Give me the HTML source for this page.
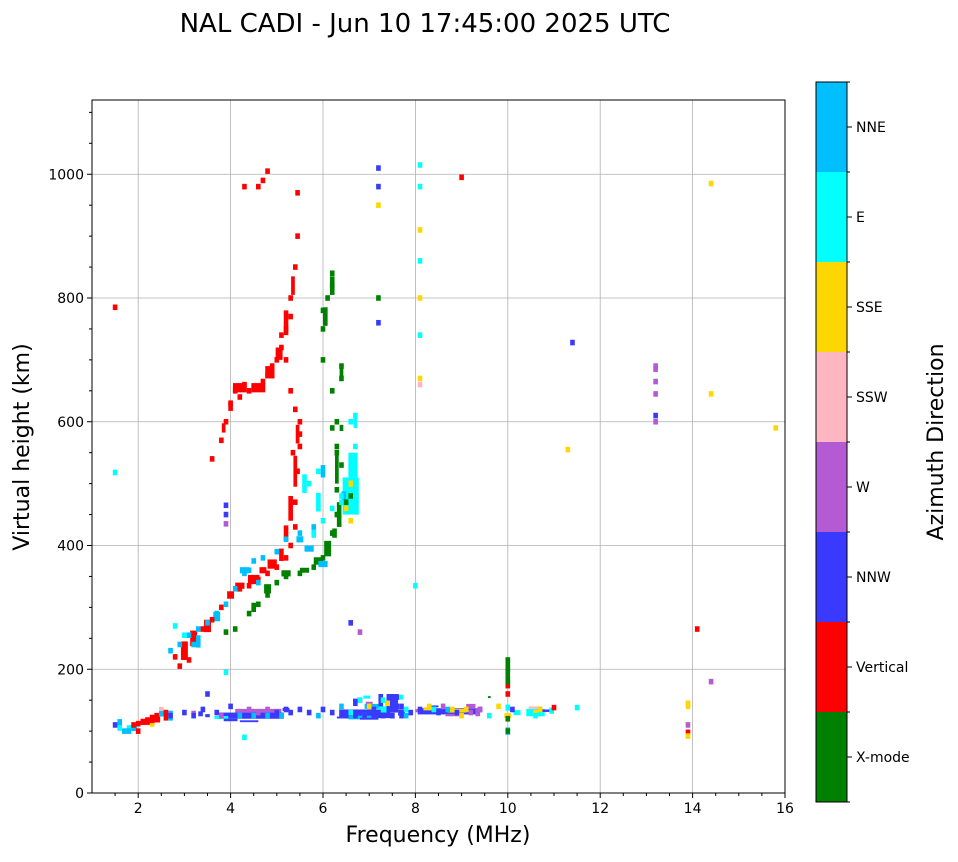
<!DOCTYPE html>
<html><head><meta charset="utf-8"><style>
body{margin:0;background:#fff;font-family:"Liberation Sans","DejaVu Sans",sans-serif}
svg text{font-family:"DejaVu Sans","Liberation Sans",sans-serif}
</style></head><body>
<svg id="c" width="958" height="857" xmlns="http://www.w3.org/2000/svg">
<text x="425" y="32" font-size="26" text-anchor="middle">NAL CADI - Jun 10 17:45:00 2025 UTC</text>
<g id="grid"></g><g id="marks"></g><g id="axes"></g><g id="cbar"></g>
<text x="438" y="842" font-size="22" text-anchor="middle">Frequency (MHz)</text>
<text transform="translate(29,447) rotate(-90)" font-size="22" text-anchor="middle">Virtual height (km)</text>
<text transform="translate(943,442) rotate(-90)" font-size="22" text-anchor="middle">Azimuth Direction</text>
</svg>
<script>
const modeNames=["X-mode","Vertical","NNW","W","SSW","SSE","E","NNE"];
const modeColors=["#008000","#ff0000","#3a3aff","#b45ad2","#ffb6c1","#ffd700","#00ffff","#00bfff"];
const xTicks=[2,4,6,8,10,12,14,16];
const yTicks=[0,200,400,600,800,1000];
const freqs=[1.5,1.6,1.7,1.8,1.9,2.0,2.1,2.2,2.3,2.4,2.5,2.6,2.7,1.6,1.8,2.0,
2.8,3.0,3.2,3.4,3.6,3.8,4.0,4.2,4.4,4.6,4.8,5.0,5.2,5.3,5.4,5.4,5.45,5.5,5.5,5.3,5.2,5.2,5.3,5.4,5.45,5.45,
3.6,3.8,3.9,4.0,4.1,4.3,4.5,4.7,4.9,5.0,5.1,4.3,4.6,4.7,4.8,1.5,4.2,4.4,4.8,5.1,5.3,5.4,5.5,5.35,2.9,3.1,
2.7,2.9,3.1,3.3,3.5,3.7,3.9,4.1,4.3,4.5,4.7,5.0,5.2,5.5,5.8,6.0,6.2,6.4,6.5,6.6,6.7,6.6,5.9,5.7,6.5,6.6,6.4,6.7,2.8,3.0,3.2,4.4,4.6,
3.9,4.1,4.4,4.6,4.8,5.0,5.2,5.5,5.8,6.0,6.1,6.2,6.3,6.3,6.4,6.3,6.3,6.2,6.0,6.0,6.0,6.1,6.2,6.2,6.4,6.4,6.6,6.5,10.0,10.0,10.0,10.0,10.0,10.0,6.3,6.2,
8.1,8.1,8.1,8.1,8.1,8.1,8.1,8.1,7.2,7.2,7.2,7.2,7.2,13.2,13.2,13.2,13.2,13.2,13.2,14.4,14.4,15.8,11.3,11.4,8.0,6.6,6.8,14.1,14.4,
13.9,13.9,13.9,13.9,13.9,11.0,11.5,10.6,10.6,10.7,9.0,3.9,3.9,3.9,1.5,3.9,4.3,3.5,
3.0,3.2,3.4,3.7,3.8,4.0,4.1,4.2,4.3,4.4,4.5,4.6,4.7,4.8,4.9,5.0,5.1,5.2,5.3,5.5,5.7,5.9,6.0,6.2,6.4,6.5,6.6,6.7,6.8,6.9,7.0,7.1,7.2,7.3,7.4,7.5,7.6,7.7,7.8,7.9,8.1,8.3,8.5,8.6,8.8,8.9,9.0,9.2,9.4,9.6,9.8,10.1,
4.2,4.5,4.8,5.1,6.5,6.7,6.9,7.1,7.3,7.5,7.7,8.4,8.7,9.1,9.4,7.0,7.4,7.8,6.8,7.6];
const heights=[110,105,100,105,110,112,115,118,122,125,128,130,125,115,100,100,
220,230,250,265,280,300,320,330,335,345,355,365,380,400,430,470,520,560,600,650,700,750,800,850,900,970,
540,570,600,630,650,660,655,665,690,700,720,980,980,990,1005,785,640,650,675,740,770,620,580,550,205,215,
230,240,255,265,275,290,305,330,355,375,380,390,410,420,430,440,460,480,500,530,560,600,520,500,460,440,470,610,270,255,240,360,340,
260,265,290,305,320,340,350,355,365,380,400,420,450,490,530,560,600,650,700,750,780,800,820,840,690,670,480,470,200,180,160,215,100,120,550,590,
1015,980,910,860,740,670,660,800,1010,980,950,800,760,690,685,665,645,610,600,985,645,590,555,728,335,275,260,265,180,
145,140,110,98,92,138,138,130,125,135,995,450,465,435,518,195,90,160,
130,125,135,130,125,140,125,130,125,135,125,130,125,135,125,130,125,135,130,135,130,125,135,130,140,125,130,145,150,125,140,135,130,150,145,125,155,140,135,130,135,140,130,140,135,130,125,130,135,125,140,135,
125,125,125,125,125,125,125,125,125,125,125,135,135,135,135,140,145,125,150,140];
const modes=[2,6,7,6,1,1,1,1,1,1,7,1,2,7,7,1,
1,1,1,1,1,1,1,1,1,1,1,1,1,1,1,1,1,1,1,1,1,1,1,1,1,1,
1,1,1,1,1,1,1,1,1,1,1,1,1,1,1,1,1,1,1,1,1,1,1,1,1,1,
7,7,7,7,7,7,7,7,7,7,7,7,7,7,7,6,6,6,6,6,6,6,6,6,5,5,6,6,6,6,7,7,7,
0,0,0,0,0,0,0,0,0,0,0,0,0,0,0,0,0,0,0,0,0,0,0,0,0,0,0,0,0,0,1,0,0,0,0,0,
6,6,5,6,6,5,4,5,2,2,5,0,2,3,3,3,3,2,3,5,5,5,5,2,6,2,3,1,3,
5,5,3,1,5,1,6,5,6,5,1,2,2,3,6,6,6,2,
2,2,2,2,3,2,2,3,2,3,2,3,2,3,2,2,2,2,2,2,2,7,2,2,7,2,6,2,2,6,7,2,2,6,2,2,2,2,6,2,2,5,2,3,5,2,5,3,2,6,5,2,
7,7,7,7,2,2,2,2,2,2,2,6,7,5,3,5,5,7,6,2];
// clustered echo blocks: centre frequency (MHz), centre height (km), mode, frequency extent (MHz), height extent (km)
const blockFreqs=[4.45,4.6,3.8,4.0,4.4,5.2,3.35,3.2,3.5,
6.9,6.8,7.1,7.3,7.5,7.25,6.7,7.0,6.4,7.0,7.7,7.7,6.95,
8.7,8.3,8.9,9.2,8.8,9.35,8.4,8.05,
10.0,10.0,10.0,10.0,10.0,10.0,10.2,9.6,9.6,
10.6,10.6,10.95,10.8,
2.2,1.9,2.4,2.6,1.7,2.7,1.6,2.3,2.5,2.0,
3.0,3.2,3.3,3.5,3.7,4.0,4.2,4.5,4.3,4.7,4.9,5.1,5.2,5.3,5.4,5.45,4.5,4.8,5.2,5.6,5.9,6.1,6.0,5.7,5.5,5.8,5.9,6.0,5.6,
4.2,4.6,4.85,5.05,5.2,5.35,4.0,3.85,
6.6,6.65,6.7,6.35,6.3,6.4,6.6,6.45,6.25,6.2,6.05,6.4];
const blockHeights=[125,133,122,118,116,135,128,130,125,
128,122,140,135,145,150,150,145,122,120,130,155,155,
132,136,133,140,126,130,140,133,
198,175,160,138,125,100,130,155,125,
130,138,133,133,
115,105,120,125,100,125,110,110,135,112,
230,250,245,270,285,320,335,345,360,360,370,385,420,460,520,580,300,330,355,360,375,395,370,395,410,420,470,520,500,
655,655,680,710,760,820,625,590,
480,530,600,450,525,590,500,480,420,820,770,680];
const blockModes=[2,3,6,2,2,2,2,3,2,
2,7,7,6,2,2,2,3,2,2,2,6,6,
2,5,5,3,3,3,2,3,
0,1,7,6,5,7,6,0,4,
6,4,6,2,
1,7,1,1,4,7,7,5,4,7,
1,1,7,1,7,1,1,1,7,1,1,1,1,1,1,1,0,0,0,0,0,0,7,7,7,6,6,7,6,
1,1,1,1,1,1,1,1,
6,6,6,0,0,0,5,7,0,0,0,0];
const blockFSpan=[1.4,1.0,0.3,0.3,0.4,0.15,0.1,0.1,0.1,
1.1,0.5,0.4,0.2,0.25,0.1,0.1,0.15,0.2,0.4,0.15,0.08,0.15,
1.3,0.25,0.4,0.2,0.3,0.1,0.2,0.1,
0.1,0.1,0.1,0.1,0.15,0.1,0.15,0.06,0.06,
0.4,0.3,0.1,0.2,
0.3,0.15,0.15,0.1,0.1,0.1,0.1,0.1,0.1,0.1,
0.15,0.15,0.1,0.15,0.15,0.15,0.2,0.25,0.2,0.15,0.2,0.1,0.1,0.1,0.08,0.08,0.1,0.15,0.2,0.2,0.2,0.15,0.2,0.2,0.15,0.1,0.1,0.1,0.1,
0.3,0.3,0.2,0.15,0.1,0.08,0.1,0.08,
0.35,0.2,0.08,0.1,0.08,0.08,0.1,0.1,0.1,0.1,0.1,0.08];
const blockHSpan=[10,6,5,4,3,5,8,6,5,
14,6,8,10,30,20,5,5,3,3,10,8,5,
10,5,6,8,4,12,3,5,
40,12,8,10,8,12,8,3,3,
12,4,10,4,
10,10,12,16,8,16,6,6,8,6,
30,25,20,20,15,12,10,15,10,10,15,20,25,40,50,30,15,15,10,8,12,25,10,10,10,15,30,20,30,
15,15,20,20,40,30,15,15,
60,40,20,40,50,10,10,15,15,30,30,25];
const NS="http://www.w3.org/2000/svg";
const X0=92,X1=785,Y0=793,Y1=100,XMIN=1,XMAX=16,YMIN=0,YMAX=1120;
const sx=f=>X0+(f-XMIN)/(XMAX-XMIN)*(X1-X0);
const sy=h=>Y0-(h-YMIN)/(YMAX-YMIN)*(Y0-Y1);
function mk(tag,at,parent){const e=document.createElementNS(NS,tag);for(const k in at)e.setAttribute(k,at[k]);parent.appendChild(e);return e;}
const grid=document.getElementById('grid'),axes=document.getElementById('axes'),marks=document.getElementById('marks'),cb=document.getElementById('cbar');
xTicks.forEach(t=>{if(t<XMAX){const g=mk('line',{x1:sx(t),x2:sx(t),y1:Y1,y2:Y0,stroke:'#b0b0b0','stroke-width':0.8},grid);

}
mk('line',{x1:sx(t),x2:sx(t),y1:Y0,y2:Y0+5,stroke:'#000'},axes);
const tx=mk('text',{x:sx(t),y:Y0+20,'font-size':14,'text-anchor':'middle'},axes);tx.textContent=t;

});
for(let m=1.5;m<16;m+=0.5){if(m%2!==0)mk('line',{x1:sx(m),x2:sx(m),y1:Y0,y2:Y0+3,stroke:'#000'},axes);}
yTicks.forEach(t=>{const g=mk('line',{x1:X0,x2:X1,y1:sy(t),y2:sy(t),stroke:'#b0b0b0','stroke-width':0.8},grid);


mk('line',{x1:X0-5,x2:X0,y1:sy(t),y2:sy(t),stroke:'#000'},axes);
const tx=mk('text',{x:X0-8,y:sy(t)+5,'font-size':14,'text-anchor':'end'},axes);tx.textContent=t;

});
for(let m=50;m<1120;m+=50){if(m%200!==0)mk('line',{x1:X0-3,x2:X0,y1:sy(m),y2:sy(m),stroke:'#000'},axes);}
const fr=mk('rect',{x:X0,y:Y1,width:X1-X0,height:Y0-Y1,fill:'none',stroke:'#000','stroke-width':1},axes);


for(let i=0;i<blockFreqs.length;i++){
 const f0=blockFreqs[i]-blockFSpan[i]/2,f1=blockFreqs[i]+blockFSpan[i]/2;
 const h0=blockHeights[i]-blockHSpan[i]/2,h1=blockHeights[i]+blockHSpan[i]/2;
 const r=mk('rect',{x:sx(f0),y:sy(h1),width:sx(f1)-sx(f0),height:sy(h0)-sy(h1),fill:modeColors[blockModes[i]]},marks);
 
 
}
for(let i=0;i<freqs.length;i++){
 const w=sx(freqs[i]+0.1)-sx(freqs[i]);const h=sy(0)-sy(9);
 const r=mk('rect',{x:sx(freqs[i])-w/2,y:sy(heights[i])-h/2,width:w,height:h,fill:modeColors[modes[i]]},marks);
 
 
}
const CX=816,CW=31,CT=82,CB=802,seg=(CB-CT)/modeNames.length;
modeNames.forEach((n,i)=>{const y=CB-(i+1)*seg;
 const r=mk('rect',{x:CX,y:y,width:CW,height:seg,fill:modeColors[i]},cb);
 
 
 mk('line',{x1:CX+CW,x2:CX+CW+5,y1:y+seg/2,y2:y+seg/2,stroke:'#000'},cb);
 const t=mk('text',{x:CX+CW+9,y:y+seg/2+5,'font-size':14},cb);t.textContent=n;
 
 });
for(let i=0;i<=modeNames.length;i++){mk('line',{x1:CX+CW,x2:CX+CW+3,y1:CT+i*seg,y2:CT+i*seg,stroke:'#000'},cb);}
mk('rect',{x:CX,y:CT,width:CW,height:CB-CT,fill:'none',stroke:'#000'},cb);
</script>
</body></html>
